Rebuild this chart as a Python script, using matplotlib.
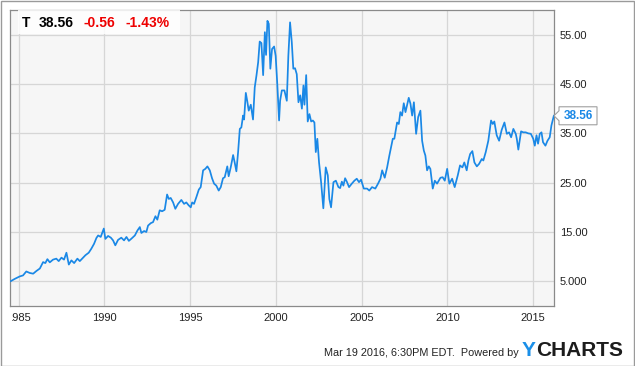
import matplotlib
matplotlib.use("Agg")
import matplotlib.pyplot as plt
from matplotlib.patches import Rectangle, Polygon
from matplotlib.transforms import Bbox

# ---- data (decimal year, price) ----
years = [1984.55, 1984.78, 1985.07, 1985.26, 1985.45, 1985.65, 1985.85, 1986.04, 1986.24, 1986.43,
         1986.56, 1986.68, 1986.82, 1987.01, 1987.20, 1987.34, 1987.50, 1987.65, 1987.79, 1987.93,
         1988.08, 1988.24, 1988.43, 1988.57, 1988.76, 1988.90, 1989.09, 1989.24, 1989.40, 1989.54,
         1989.64, 1989.79, 1989.97, 1990.06, 1990.22, 1990.38, 1990.51, 1990.64, 1990.80, 1990.99,
         1991.15, 1991.29, 1991.43, 1991.58, 1991.78, 1991.93, 1992.07, 1992.16, 1992.32, 1992.45,
         1992.55, 1992.71, 1992.84, 1992.98, 1993.09, 1993.23, 1993.37, 1993.52, 1993.66, 1993.76,
         1993.87, 1994.01, 1994.14, 1994.30, 1994.49, 1994.65, 1994.78, 1994.92, 1995.04, 1995.12,
         1995.23, 1995.37, 1995.51, 1995.62, 1995.76, 1995.89, 1996.01, 1996.15, 1996.28, 1996.40,
         1996.53, 1996.67, 1996.79, 1996.92, 1997.02, 1997.17, 1997.25, 1997.37, 1997.51, 1997.60,
         1997.70, 1997.80, 1997.90, 1997.99, 1998.09, 1998.15, 1998.25, 1998.34, 1998.42, 1998.54,
         1998.67, 1998.77, 1998.87, 1998.97, 1999.06, 1999.16, 1999.26, 1999.36, 1999.43, 1999.51,
         1999.59, 1999.68, 1999.78, 1999.90, 1999.99, 2000.09, 2000.19, 2000.25, 2000.35, 2000.50,
         2000.64, 2000.73, 2000.83, 2000.93, 2001.02, 2001.12, 2001.22, 2001.32, 2001.42, 2001.52,
         2001.61, 2001.67, 2001.77, 2001.86, 2001.96, 2002.06, 2002.16, 2002.25, 2002.33, 2002.42,
         2002.52, 2002.64, 2002.77, 2002.91, 2003.03, 2003.12, 2003.22, 2003.36, 2003.50, 2003.65,
         2003.75, 2003.85, 2003.94, 2004.04, 2004.14, 2004.27, 2004.43, 2004.58, 2004.72, 2004.85,
         2004.97, 2005.13, 2005.32, 2005.45, 2005.61, 2005.80, 2005.96, 2006.10, 2006.20, 2006.35,
         2006.49, 2006.62, 2006.82, 2006.91, 2007.07, 2007.17, 2007.26, 2007.36, 2007.46, 2007.56,
         2007.75, 2007.85, 2007.95, 2008.05, 2008.18, 2008.30, 2008.43, 2008.53, 2008.63, 2008.72,
         2008.82, 2008.92, 2009.01, 2009.15, 2009.27, 2009.40, 2009.60, 2009.73, 2009.85, 2009.99,
         2010.12, 2010.28, 2010.43, 2010.61, 2010.74, 2010.88, 2010.99, 2011.13, 2011.23, 2011.33,
         2011.46, 2011.58, 2011.72, 2011.85, 2012.01, 2012.10, 2012.24, 2012.39, 2012.55, 2012.65,
         2012.74, 2012.88, 2013.02, 2013.17, 2013.33, 2013.47, 2013.60, 2013.72, 2013.85, 2013.99,
         2014.05, 2014.14, 2014.30, 2014.43, 2014.57, 2014.71, 2014.87, 2015.01, 2015.10, 2015.20,
         2015.29, 2015.39, 2015.49, 2015.58, 2015.72, 2015.84, 2015.97, 2016.07, 2016.21]
prices = [5.05, 5.5, 6.0, 6.2, 7.0, 6.7, 6.55, 7.1, 7.6, 8.9,
          8.7, 9.5, 8.85, 9.4, 9.6, 9.1, 9.8, 9.4, 10.8, 8.4,
          9.25, 8.7, 9.6, 9.1, 9.8, 10.3, 10.8, 11.6, 12.6, 13.8,
          14.3, 14.0, 15.7, 13.6, 14.2, 13.85, 13.3, 12.3, 13.4, 13.85,
          13.3, 14.0, 13.2, 13.65, 14.3, 15.3, 16.0, 14.8, 15.2, 15.0,
          16.3, 16.8, 17.0, 18.2, 17.5, 19.4, 19.2, 19.5, 22.6, 21.7,
          21.9, 21.0, 19.7, 20.7, 21.5, 20.7, 21.0, 20.4, 20.0, 21.0,
          20.7, 22.1, 23.6, 24.1, 27.5, 27.8, 28.3, 27.5, 25.9, 24.8,
          24.4, 23.4, 24.1, 25.9, 26.1, 28.3, 26.3, 28.1, 30.6, 29.1,
          27.3, 31.2, 35.9, 36.2, 38.6, 37.8, 43.2, 41.4, 39.6, 40.8,
          37.8, 44.3, 46.7, 49.4, 53.6, 53.3, 46.8, 55.5, 50.9, 57.8,
          57.2, 48.1, 52.1, 52.6, 50.7, 44.7, 37.6, 41.6, 43.7, 43.7,
          41.6, 50.7, 57.5, 53.5, 48.1, 48.2, 47.0, 41.3, 42.7, 40.0,
          44.7, 40.8, 46.8, 37.4, 38.9, 37.4, 37.6, 37.2, 31.2, 33.9,
          29.1, 25.1, 19.8, 28.1, 26.5, 21.7, 20.0, 25.1, 25.4, 24.1,
          23.9, 25.2, 24.4, 25.9, 25.2, 24.1, 24.8, 25.4, 25.8, 25.1,
          25.6, 23.8, 23.8, 23.4, 24.1, 23.8, 24.8, 25.8, 27.5, 26.0,
          28.1, 30.5, 33.9, 33.9, 37.2, 36.9, 39.3, 38.6, 41.1, 39.3,
          42.2, 41.0, 38.6, 41.3, 34.9, 38.3, 39.6, 33.5, 31.5, 30.5,
          27.5, 28.3, 27.8, 23.8, 25.4, 24.8, 26.0, 26.1, 25.4, 27.8,
          24.8, 25.8, 24.1, 26.5, 28.5, 28.1, 29.1, 27.5, 29.5, 30.8,
          31.4, 29.1, 28.3, 28.8, 29.8, 29.5, 31.2, 33.5, 37.6, 36.9,
          37.4, 34.6, 33.5, 35.7, 37.2, 34.9, 35.2, 34.2, 35.9, 34.9,
          33.9, 31.7, 35.4, 35.2, 35.2, 35.0, 34.9, 33.9, 32.5, 34.6,
          32.9, 34.9, 35.2, 33.2, 32.5, 33.5, 34.2, 36.6, 38.56]

x_ticks = [1985, 1990, 1995, 2000, 2005, 2010, 2015]
x_tick_labels = ["1985", "1990", "1995", "2000", "2005", "2010", "2015"]
y_ticks = [5, 15, 25, 35, 45, 55]
y_tick_labels = ["5.000", "15.00", "25.00", "35.00", "45.00", "55.00"]
ticker = "T"
last_price = "38.56"
change = "-0.56"
change_pct = "-1.43%"
footer = "Mar 19 2016, 6:30PM EDT.  Powered by"

FONT = "Liberation Sans"
BLUE = "#1a88e6"
W, H = 635, 366

fig = plt.figure(figsize=(W / 100, H / 100), dpi=100)
fig.patch.set_facecolor("white")
ax = fig.add_axes([10 / W, 1 - 306 / H, (554 - 10) / W, (306 - 10) / H])
ax.set_facecolor("#f6f6f6")
ax.plot(years, prices, color=BLUE, lw=1.25, solid_joinstyle="round", zorder=3)
ax.set_xlim(1984.50, 2016.22)
ax.set_ylim(0, 60)

ax.set_xticks(x_ticks)
ax.set_xticklabels(x_tick_labels, fontfamily=FONT, fontsize=8, color="#222222")
ax.set_yticks(y_ticks)
ax.set_yticklabels(y_tick_labels, fontfamily=FONT, fontsize=8, color="#222222")
ax.yaxis.tick_right()
ax.tick_params(axis="both", length=0)
ax.tick_params(axis="y", pad=4.2)
ax.tick_params(axis="x", pad=5)
ax.grid(True, color="#d6d6d6", lw=0.9, zorder=0)
ax.set_axisbelow(True)
for s in ax.spines.values():
    s.set_color("#8a8a8a")
    s.set_linewidth(0.9)

# title box
ax.add_patch(Rectangle((18, H - 34), 162, 24, transform=None, facecolor="white",
                       alpha=0.85, edgecolor="none", zorder=4))
ty = H - 23
fig.text(22 / W, ty / H, ticker, fontfamily=FONT, fontweight="bold", fontsize=10,
         color="black", va="center", ha="left")
fig.text(39 / W, ty / H, last_price, fontfamily=FONT, fontweight="bold", fontsize=10,
         color="black", va="center", ha="left")
fig.text(83 / W, ty / H, change, fontfamily=FONT, fontweight="bold", fontsize=10,
         color="#ee0000", va="center", ha="left")
fig.text(125 / W, ty / H, change_pct, fontfamily=FONT, fontweight="bold", fontsize=10,
         color="#ee0000", va="center", ha="left")

# last value flag
fig.canvas.draw()
px, py = ax.transData.transform((ax.get_xlim()[1], prices[-1]))
poly = [(px, py), (px + 5, py + 5), (px + 5, py + 9), (px + 43, py + 9),
        (px + 43, py - 9), (px + 5, py - 9), (px + 5, py - 5)]
fig.patches.append(Polygon(poly, closed=True, transform=None, facecolor="white",
                           edgecolor="#a0a0a0", lw=0.8, zorder=5))
fig.text((px + 24) / W, py / H, last_price, fontfamily=FONT, fontweight="bold",
         fontsize=8.5, color=BLUE, va="center", ha="center", zorder=6)

# clip first x label at the plot's left edge
lab0 = ax.xaxis.get_major_ticks()[0].label1
lab0.set_clip_box(Bbox([[11.5, 0], [W, H]]))
lab0.set_clip_on(True)

# footer
fig.text(519 / W, (H - 353) / H, footer, fontfamily=FONT, fontsize=7.8,
         color="#222222", va="center", ha="right")
ylogo = fig.text(522 / W, (H - 351) / H, "Y", fontfamily=FONT, fontweight="bold",
                 fontsize=15, color="#1a8fe8", va="center", ha="left")
renderer = fig.canvas.get_renderer()
yext = ylogo.get_window_extent(renderer)
fig.text((yext.x1 + 0.5) / W, (H - 351) / H, "CHARTS", fontfamily=FONT, fontweight="bold",
         fontsize=15, color="#1c1c1c", va="center", ha="left")

# outer border
fig.patches.append(Rectangle((0.5, 0.5), W - 1.5, H - 1.5, transform=None, fill=False,
                             edgecolor="#9a9a9a", lw=1))

fig.savefig("out.png", dpi=100)
